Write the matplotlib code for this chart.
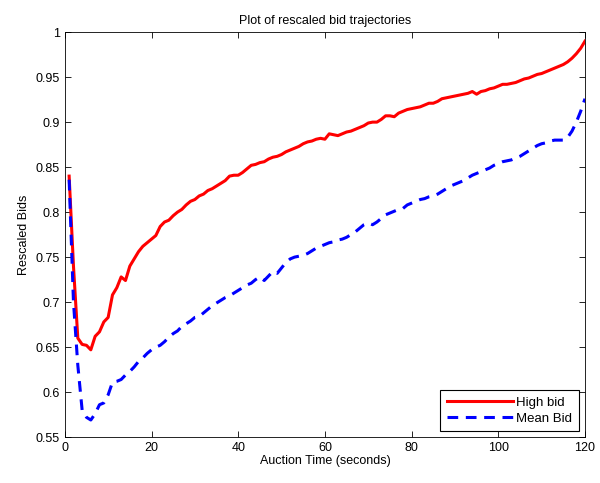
import matplotlib
matplotlib.use("Agg")
import matplotlib.pyplot as plt
import numpy as np

plt.rcParams['font.family'] = ['Liberation Sans', 'DejaVu Sans']

# auction time in seconds, one value per second
times = np.arange(1, 121)

high_bid = [
    0.840, 0.740, 0.660, 0.653, 0.652, 0.647, 0.662, 0.667, 0.678, 0.683,
    0.708, 0.716, 0.728, 0.724, 0.740, 0.748, 0.756, 0.762, 0.766, 0.770,
    0.774, 0.784, 0.789, 0.791, 0.796, 0.800, 0.803, 0.808, 0.812, 0.814,
    0.818, 0.820, 0.824, 0.826, 0.829, 0.832, 0.835, 0.840, 0.841, 0.841,
    0.844, 0.848, 0.852, 0.853, 0.855, 0.856, 0.859, 0.861, 0.862, 0.864,
    0.867, 0.869, 0.871, 0.873, 0.876, 0.878, 0.879, 0.881, 0.882, 0.881,
    0.887, 0.886, 0.885, 0.887, 0.889, 0.890, 0.892, 0.894, 0.896, 0.899,
    0.900, 0.900, 0.903, 0.907, 0.907, 0.906, 0.910, 0.912, 0.914, 0.915,
    0.916, 0.917, 0.919, 0.921, 0.921, 0.923, 0.926, 0.927, 0.928, 0.929,
    0.930, 0.931, 0.932, 0.934, 0.931, 0.934, 0.935, 0.937, 0.938, 0.940,
    0.942, 0.942, 0.943, 0.944, 0.946, 0.948, 0.949, 0.951, 0.953, 0.954,
    0.956, 0.958, 0.960, 0.962, 0.964, 0.967, 0.971, 0.976, 0.982, 0.990,
]

mean_bid = [
    0.836, 0.700, 0.630, 0.580, 0.572, 0.569, 0.576, 0.586, 0.588, 0.597,
    0.611, 0.612, 0.614, 0.619, 0.623, 0.628, 0.634, 0.638, 0.643, 0.647,
    0.650, 0.652, 0.656, 0.661, 0.665, 0.668, 0.673, 0.676, 0.679, 0.683,
    0.684, 0.688, 0.692, 0.696, 0.699, 0.702, 0.705, 0.707, 0.710, 0.713,
    0.716, 0.719, 0.721, 0.725, 0.728, 0.724, 0.729, 0.734, 0.732, 0.738,
    0.744, 0.748, 0.750, 0.751, 0.752, 0.754, 0.757, 0.760, 0.762, 0.764,
    0.766, 0.767, 0.769, 0.770, 0.772, 0.775, 0.778, 0.782, 0.786, 0.788,
    0.786, 0.789, 0.793, 0.797, 0.799, 0.801, 0.803, 0.804, 0.808, 0.810,
    0.812, 0.814, 0.815, 0.817, 0.818, 0.820, 0.823, 0.826, 0.829, 0.831,
    0.833, 0.835, 0.838, 0.841, 0.843, 0.845, 0.847, 0.849, 0.852, 0.854,
    0.856, 0.857, 0.858, 0.860, 0.862, 0.865, 0.868, 0.871, 0.874, 0.876,
    0.877, 0.879, 0.880, 0.880, 0.880, 0.883, 0.890, 0.900, 0.912, 0.926,
]

fig = plt.figure(figsize=(6.0, 4.83), dpi=100)
ax = fig.add_axes([0.108, 0.095, 0.867, 0.8385])

ax.plot(times, high_bid, color='#ff0000', linewidth=2.2, label='High bid')
ax.plot(times, mean_bid, color='#0000ff', linewidth=2.2, linestyle=(0, (3.5, 2.5)),
        label='Mean Bid')

ax.set_xlim(0, 120)
ax.set_ylim(0.55, 1.0)
ax.set_xticks(np.arange(0, 121, 20))
ax.set_yticks(np.arange(0.55, 1.001, 0.05))
ax.set_yticklabels(['0.55', '0.6', '0.65', '0.7', '0.75', '0.8', '0.85', '0.9', '0.95', '1'])

ax.tick_params(direction='in', length=4, width=0.6, top=True, right=True, labelsize=9)
for s in ax.spines.values():
    s.set_linewidth(0.6)

ax.set_title('Plot of rescaled bid trajectories', fontsize=9)
ax.set_xlabel('Auction Time (seconds)', fontsize=9, labelpad=1)
ax.set_ylabel('Rescaled Bids', fontsize=9, labelpad=4)

leg = ax.legend(loc='lower right', fontsize=9.5, fancybox=False, handlelength=5,
                borderaxespad=0.45, borderpad=0.5, edgecolor='black', framealpha=1,
                handletextpad=0.3, labelspacing=0.25)
leg.get_frame().set_linewidth(0.8)

fig.savefig('out.png', dpi=100)
